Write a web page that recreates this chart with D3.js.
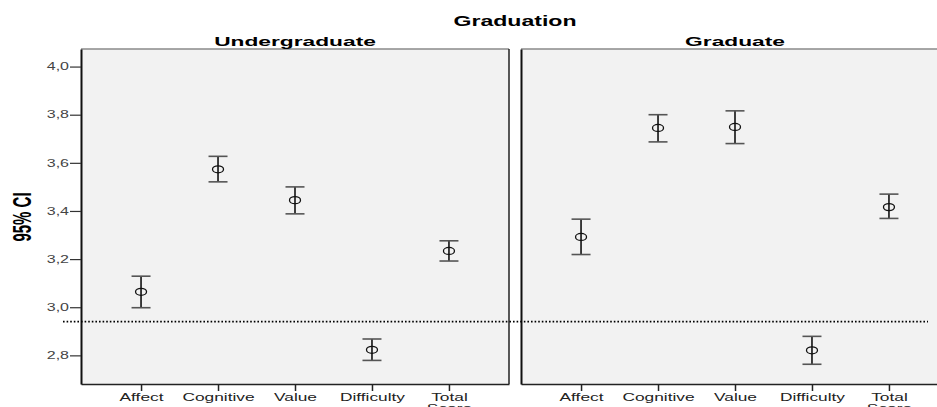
<html lang="en">
<head>
    <meta charset="UTF-8">
    <title>Graduation 95% CI</title>
    <script src="https://d3js.org/d3.v7.min.js"></script>
    <style>
        body { margin: 0; background: #fff; }
        text { font-family: Arial, "Liberation Sans", sans-serif; }
    </style>
</head>
<body>
    <svg width="937" height="407"></svg>
    <script>
        // data
        var categories = ["Affect", "Cognitive", "Value", "Difficulty", "Total Score"];
        var groups = ["Undergraduate", "Graduate"];
        var means = [
            [3.064, 3.573, 3.445, 2.823, 3.234],
            [3.292, 3.745, 3.749, 2.821, 3.416]
        ];
        var lower = [
            [2.998, 3.521, 3.388, 2.779, 3.192],
            [3.219, 3.687, 3.680, 2.763, 3.369]
        ];
        var upper = [
            [3.129, 3.627, 3.500, 2.868, 3.276],
            [3.366, 3.800, 3.816, 2.879, 3.470]
        ];
        var yTicks = [2.8, 3.0, 3.2, 3.4, 3.6, 3.8, 4.0];
        var refValue = 2.94;

        var svg = d3.select("svg"),
            plotTop = 49, plotBottom = 384,
            panelLeft = [81, 521],
            panelWidth = 428,
            stretch = 1.65; // the original is drawn wide, text looks stretched

        var yScale = d3.scaleLinear().domain([2.681, 4.073]).range([plotBottom, plotTop]);

        var fmt = function (d) { return d3.format(".1f")(d).replace(".", ","); };

        // title
        svg.append("text")
            .attr("transform", "translate(515,26) scale(" + stretch + ",1)")
            .attr("text-anchor", "middle")
            .style("font-weight", "bold").style("font-size", "14px")
            .text("Graduation");

        // y label
        svg.append("text")
            .attr("transform", "translate(31,217) rotate(-90) scale(1,1.7)")
            .attr("text-anchor", "middle")
            .style("font-family", "'Liberation Sans Narrow', 'Arial Narrow', sans-serif")
            .style("font-weight", "bold").style("font-size", "15px")
            .text("95% CI");

        groups.forEach(function (name, gi) {
            var x0 = panelLeft[gi];
            var xScale = d3.scalePoint().domain(categories).range([x0, x0 + panelWidth]).padding(0.78);
            var g = svg.append("g");

            g.append("rect")
                .attr("x", x0).attr("y", plotTop)
                .attr("width", panelWidth).attr("height", plotBottom - plotTop)
                .attr("fill", "#f2f2f2");

            // top border grey
            g.append("line")
                .attr("x1", x0).attr("x2", x0 + panelWidth)
                .attr("y1", plotTop).attr("y2", plotTop)
                .attr("stroke", "#8a8a8a").attr("stroke-width", 1.5);
            // right border
            g.append("line")
                .attr("x1", x0 + panelWidth).attr("x2", x0 + panelWidth)
                .attr("y1", plotTop).attr("y2", plotBottom)
                .attr("stroke", "#222").attr("stroke-width", 1.5);

            // panel title
            g.append("text")
                .attr("transform", "translate(" + (x0 + panelWidth / 2) + ",46) scale(1.75,1)")
                .attr("text-anchor", "middle")
                .style("font-weight", "bold").style("font-size", "13px")
                .text(name);

            // x axis
            var xAxis = g.append("g")
                .attr("transform", "translate(0," + plotBottom + ")")
                .call(d3.axisBottom(xScale).tickSize(7).tickPadding(2).tickSizeOuter(0));
            xAxis.select(".domain").attr("stroke", "#222").attr("stroke-width", 1.5);
            xAxis.selectAll(".tick line").attr("stroke", "#222").attr("stroke-width", 1.5);
            xAxis.selectAll(".tick text")
                .attr("fill", "#222")
                .attr("dy", null)
                .attr("transform", "scale(" + stretch + ",1)")
                .style("font-size", "10.5px")
                .each(function (d) {
                    var words = d.split(" ");
                    var t = d3.select(this).text(null);
                    words.forEach(function (w, i) {
                        t.append("tspan").attr("x", 0).attr("dy", i === 0 ? "0.75em" : "1.05em").text(w);
                    });
                });

            // y axis (left border)
            var yAxis = g.append("g")
                .attr("transform", "translate(" + x0 + ",0)")
                .call(d3.axisLeft(yScale).tickValues(gi === 0 ? yTicks : []).tickFormat(fmt)
                    .tickSize(11).tickPadding(1).tickSizeOuter(0));
            yAxis.select(".domain").attr("stroke", "#111").attr("stroke-width", 2);
            yAxis.selectAll(".tick line").attr("stroke", "#333").attr("stroke-width", 1.2);
            yAxis.selectAll(".tick text")
                .attr("x", 0)
                .attr("transform", "translate(-12,0) scale(1.6,1)")
                .attr("fill", "#444").style("font-size", "10px");

            // error bars
            var bars = g.selectAll(".eb")
                .data(categories.map(function (c, i) {
                    return { cat: c, m: means[gi][i], lo: lower[gi][i], hi: upper[gi][i] };
                }))
                .enter().append("g").attr("class", "eb");

            bars.append("line")
                .attr("x1", function (d) { return xScale(d.cat); })
                .attr("x2", function (d) { return xScale(d.cat); })
                .attr("y1", function (d) { return yScale(d.hi); })
                .attr("y2", function (d) { return yScale(d.lo); })
                .attr("stroke", "#111").attr("stroke-width", 1.6);
            ["hi", "lo"].forEach(function (k) {
                bars.append("line")
                    .attr("x1", function (d) { return xScale(d.cat) - 9.5; })
                    .attr("x2", function (d) { return xScale(d.cat) + 9.5; })
                    .attr("y1", function (d) { return yScale(d[k]); })
                    .attr("y2", function (d) { return yScale(d[k]); })
                    .attr("stroke", "#555").attr("stroke-width", 1.6);
            });
            bars.append("ellipse")
                .attr("cx", function (d) { return xScale(d.cat); })
                .attr("cy", function (d) { return yScale(d.m); })
                .attr("rx", 5.5).attr("ry", 3.5)
                .attr("fill", "none").attr("stroke", "#111").attr("stroke-width", 1.3);
        });

        // reference line across both panels
        svg.append("line")
            .attr("x1", 63).attr("x2", 928)
            .attr("y1", yScale(refValue)).attr("y2", yScale(refValue))
            .attr("stroke", "#000").attr("stroke-width", 1.6)
            .attr("stroke-dasharray", "1.6,2");
    </script>
</body>
</html>
